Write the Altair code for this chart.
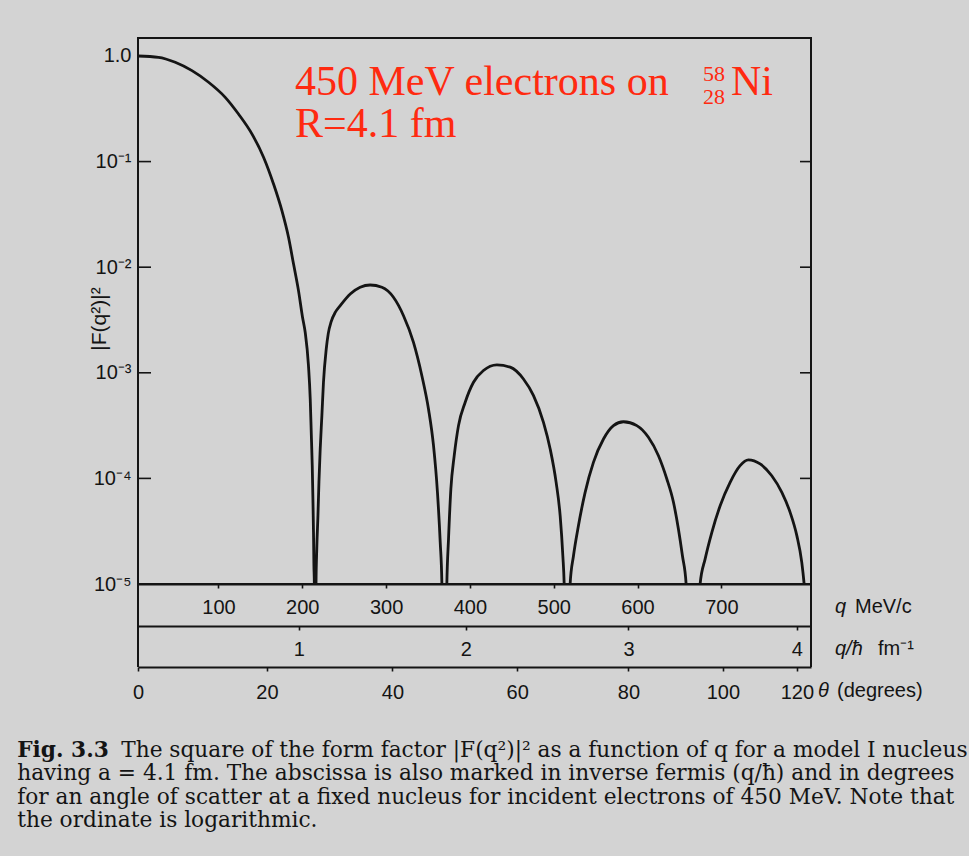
import altair as alt
import pandas as pd

# ---------------- data ----------------
q_mev = [4, 28.5, 48.4, 68.4, 88.2, 108.1, 123.9, 139.9, 153.8, 165.7, 175.7, 183.6, 189.6,
         195.5, 200.3, 203.5, 207.4, 209.5, 210.7, 211.9, 212.7, 213.4, 213.9, 214.4, 215.4,
         216.4, 217.3, 218.7, 219.9, 221.4, 223.4, 225.3, 228.6, 231.0, 234.5, 239.5, 245.3, 257.2, 269.1,
         281.0, 295.0, 308.8, 320.8, 332.7, 342.7, 350.6, 356.6, 361.3, 364.6, 366.6, 369.5,
         372.5, 374.5, 377.3, 381.3, 386.4, 394.4, 404.3, 416.2, 432.2, 448.1, 463.9, 475.9,
         487.8, 495.8, 502.9, 507.7, 510.9, 512.5, 516.0, 519.6, 523.6, 529.5, 537.5, 547.4,
         559.4, 571.3, 583.2, 599.2, 613.0, 625.0, 635.0, 642.9, 648.8, 653.6, 658.0, 666.3,
         674.7, 680.7, 688.7, 698.6, 710.5, 722.4, 732.3, 746.3, 760.2, 772.2, 782.1, 790.1,
         796.0, 798.8, 807.0]
f_sq = [1.0, 0.972, 0.872, 0.726, 0.564, 0.406, 0.282, 0.183, 0.110, 0.0614, 0.0343, 0.0192, 0.0107,
        6.0e-3, 3.36e-3, 2.42e-3, 1.17e-3, 5.65e-4, 2.75e-4, 1.32e-4, 6.38e-5, 3.11e-5, 1.49e-5, 1.0e-5, 1e-7,
        1.0e-5, 2.14e-5, 4.43e-5, 9.24e-5, 1.90e-4, 3.93e-4, 8.13e-4, 1.68e-3, 2.35e-3, 3.05e-3, 3.75e-3, 4.32e-3, 5.57e-3, 6.45e-3,
        6.78e-3, 6.45e-3, 5.19e-3, 3.47e-3, 1.94e-3, 9.39e-4, 4.54e-4, 2.04e-4, 7.38e-5, 2.48e-5, 1.0e-5, 1e-7,
        1.0e-5, 2.67e-5, 7.94e-5, 1.64e-4, 3.16e-4, 5.26e-4, 8.13e-4, 1.05e-3, 1.19e-3, 1.13e-3, 8.73e-4, 6.07e-4,
        3.40e-4, 1.90e-4, 9.18e-5, 4.43e-5, 1.85e-5, 1.0e-5, 1e-7, 1.0e-5, 1.85e-5, 3.56e-5, 7.38e-5, 1.42e-4,
        2.36e-4, 3.16e-4, 3.44e-4, 3.16e-4, 2.45e-4, 1.64e-4, 9.87e-5, 5.94e-5, 3.32e-5, 1.85e-5, 1.0e-5, 1e-7,
        1.0e-5, 1.73e-5, 3.09e-5, 5.51e-5, 9.18e-5, 1.32e-4, 1.50e-4, 1.37e-4, 1.06e-4, 7.38e-5, 4.77e-5, 2.87e-5,
        1.60e-5, 1.0e-5, 1e-6]

q_ticks = [100, 200, 300, 400, 500, 600, 700]
fm_labels = ["1", "2", "3", "4"]
fm_at_q = [195.8, 395.2, 589.2, 790.1]
theta_labels = ["0", "20", "40", "60", "80", "100", "120"]
theta_at_q = [4, 157.8, 307.6, 456.4, 589.2, 701.8, 790.1]
y_tick_vals = [1, 1e-1, 1e-2, 1e-3, 1e-4, 1e-5]
y_tick_labels = ["1.0", "10⁻¹", "10⁻²", "10⁻³", "10⁻⁴", "10⁻⁵"]
inner_ticks = [1e-1, 1e-2, 1e-3, 1e-4]

caption_lines = [
    "The square of the form factor |F(q²)|² as a function of q for a model I nucleus",
    "having a = 4.1 fm. The abscissa is also marked in inverse fermis (q/ħ) and in degrees",
    "for an angle of scatter at a fixed nucleus for incident electrons of 450 MeV. Note that",
    "the ordinate is logarithmic.",
]

# ---------------- styling ----------------
W, H = 673, 546
XDOM = [4, 807]
YDOM = [1e-5, 1.48]
INK = "#141414"
RED = "#ff2a10"
SANS = "Liberation Sans"
SERIF = "Liberation Serif"
CAPF = "DejaVu Serif"
BG = "#d3d3d3"


def xscale():
    return alt.Scale(domain=XDOM, nice=False, zero=False)


def step_expr(pos, labels):
    expr = "'" + labels[-1] + "'"
    for i in range(len(pos) - 2, -1, -1):
        mid = (pos[i] + pos[i + 1]) / 2
        expr = f"datum.value < {mid:.2f} ? '{labels[i]}' : ({expr})"
    return expr


def y_expr(vals, labels):
    expr = "'" + labels[-1] + "'"
    for i in range(len(vals) - 2, -1, -1):
        mid = (vals[i] * vals[i + 1]) ** 0.5
        expr = f"datum.value > {mid:.4g} ? '{labels[i]}' : ({expr})"
    return expr


axis_common = dict(grid=False, title=None, orient="bottom", domainWidth=2, domainColor=INK,
                   tickColor=INK, tickWidth=1.6, tickSize=4, labelFont=SANS, labelFontSize=20,
                   labelColor=INK, labelFlush=False, labelOverlap=False)

curve_df = pd.DataFrame({"q": q_mev, "F": f_sq})

curve = alt.Chart(curve_df).mark_line(
    color=INK, strokeWidth=2.8, interpolate="monotone", clip=True
).encode(
    x=alt.X("q:Q", scale=xscale(),
            axis=alt.Axis(values=q_ticks, offset=0, format="d", labelPadding=9, **axis_common)),
    y=alt.Y("F:Q", scale=alt.Scale(type="log", domain=YDOM, nice=False),
            axis=alt.Axis(values=y_tick_vals, labelExpr=y_expr(y_tick_vals, y_tick_labels),
                          grid=False, title=None, domain=False, ticks=False, labelFont=SANS,
                          labelFontSize=20, labelColor=INK, labelPadding=7, labelFlush=False,
                          labelOverlap=False)),
)

fm_layer = alt.Chart(pd.DataFrame({"qf": fm_at_q})).mark_point(opacity=0).encode(
    x=alt.X("qf:Q", scale=xscale(),
            axis=alt.Axis(values=fm_at_q, labelExpr=step_expr(fm_at_q, fm_labels), offset=42,
                          labelPadding=9, **axis_common))
)

theta_layer = alt.Chart(pd.DataFrame({"qt": theta_at_q})).mark_point(opacity=0).encode(
    x=alt.X("qt:Q", scale=xscale(),
            axis=alt.Axis(values=theta_at_q, labelExpr=step_expr(theta_at_q, theta_labels),
                          offset=83, labelPadding=11, **axis_common))
)

tick_df = pd.DataFrame({"F": inner_ticks})
left_ticks = alt.Chart(tick_df).mark_rule(color=INK, strokeWidth=1.6).encode(
    y="F:Q", x=alt.value(0), x2=alt.value(13))
right_ticks = alt.Chart(tick_df).mark_rule(color=INK, strokeWidth=1.6).encode(
    y="F:Q", x=alt.value(W - 11), x2=alt.value(W))

one = pd.DataFrame({"k": [0]})
band_left = alt.Chart(one).mark_rule(color=INK, strokeWidth=2).encode(
    x=alt.value(0), y=alt.value(H), y2=alt.value(H + 83))
band_right = alt.Chart(one).mark_rule(color=INK, strokeWidth=2).encode(
    x=alt.value(W), y=alt.value(H), y2=alt.value(H + 83))


def txt(s, x, y, size, font=SANS, color=INK, style="normal", weight="normal",
        align="left", baseline="alphabetic", angle=0, limit=0):
    props = dict(text=s, font=font, fontSize=size, color=color, fontStyle=style,
                 fontWeight=weight, align=align, baseline=baseline, angle=angle)
    if limit:
        props["limit"] = limit
        props["ellipsis"] = "\u200b"
    return alt.Chart(one).mark_text(**props).encode(x=alt.value(x), y=alt.value(y))


texts = [
    # red annotation
    txt("450 MeV electrons on", 157, 57, 42, font=SERIF, color=RED),
    txt("58", 565, 43, 22, font=SERIF, color=RED),
    txt("28", 565, 66, 22, font=SERIF, color=RED),
    txt("Ni", 593, 57, 42, font=SERIF, color=RED),
    txt("R=4.1 fm", 157, 99, 42, font=SERIF, color=RED),
    # y title
    txt("|F(q²)|²", -38, 281, 21, angle=270, align="center", baseline="middle"),
    # right-hand axis names
    txt("q", 697, 569, 20, style="italic", baseline="middle"),
    txt("MeV/c", 717, 569, 20, baseline="middle"),
    txt("q/ħ", 697, 611, 20, style="italic", baseline="middle"),
    txt("fm⁻¹", 740, 611, 20, baseline="middle"),
    txt("θ", 680, 653, 20, style="italic", baseline="middle"),
    txt("(degrees)", 699, 653, 20, baseline="middle"),
    # caption
    txt("Fig. 3.3", -120.8, 719, 21.7, font=CAPF, weight="bold"),
    txt(caption_lines[0], -16.8, 719, 21.7, font=CAPF, limit=847),
    txt(caption_lines[1], -120.8, 742, 21.7, font=CAPF, limit=951),
    txt(caption_lines[2], -120.8, 765.5, 21.7, font=CAPF, limit=951),
    txt(caption_lines[3], -120.8, 789, 21.7, font=CAPF, limit=951),
]

chart = alt.layer(
    curve, fm_layer, theta_layer, left_ticks, right_ticks, band_left, band_right, *texts
).resolve_scale(x="independent").properties(
    width=W, height=H,
    padding={"left": 17, "top": 38, "right": 1, "bottom": 24},
    background=BG,
).configure_view(stroke=INK, strokeWidth=2)

chart.save("out.html", embed_options={"renderer": "svg", "actions": False})
